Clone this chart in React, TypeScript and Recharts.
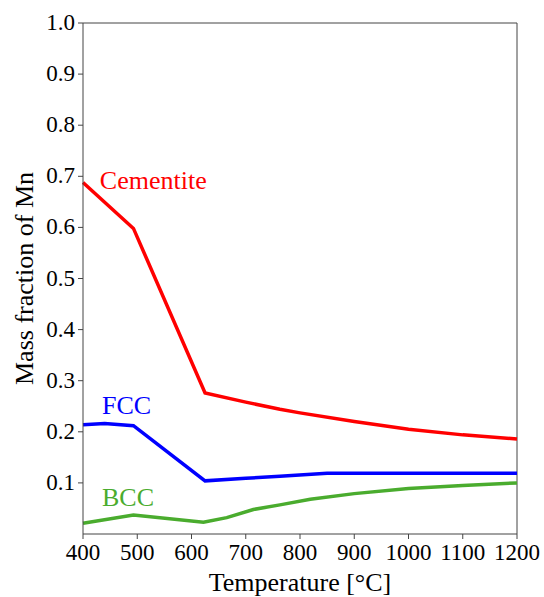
import React from 'react';
import { LineChart, Line, XAxis, YAxis, ReferenceLine, ReferenceDot } from 'recharts';

// Mn mass fraction per phase vs temperature [°C]
const cementite = [
  { t: 400, v: 0.688 }, { t: 493, v: 0.598 }, { t: 625, v: 0.276 }, { t: 700, v: 0.258 },
  { t: 763, v: 0.244 }, { t: 800, v: 0.237 }, { t: 900, v: 0.220 }, { t: 1000, v: 0.205 },
  { t: 1100, v: 0.194 }, { t: 1200, v: 0.186 },
];
const fcc = [
  { t: 400, v: 0.214 }, { t: 440, v: 0.216 }, { t: 493, v: 0.212 }, { t: 625, v: 0.104 },
  { t: 700, v: 0.109 }, { t: 763, v: 0.113 }, { t: 850, v: 0.119 }, { t: 1200, v: 0.119 },
];
const bcc = [
  { t: 400, v: 0.021 }, { t: 493, v: 0.037 }, { t: 622, v: 0.023 }, { t: 665, v: 0.032 },
  { t: 714, v: 0.048 }, { t: 763, v: 0.057 }, { t: 819, v: 0.068 }, { t: 900, v: 0.079 },
  { t: 1000, v: 0.089 }, { t: 1100, v: 0.095 }, { t: 1200, v: 0.100 },
];
const xTicks = [400, 500, 600, 700, 800, 900, 1000, 1100, 1200];
const yTicks = [0.1, 0.2, 0.3, 0.4, 0.5, 0.6, 0.7, 0.8, 0.9, 1.0];

const font = '"Liberation Serif", "Times New Roman", serif';
const axisColor = '#444';
const titleStyle = { fontSize: 26, fill: '#000', fontFamily: font };
const tickText = { fontSize: 23, fill: '#000', fontFamily: font };

const XTick = (props: any) => {
  const { x, y, payload } = props;
  return (
    <text x={x} y={y + 16} textAnchor="middle" style={tickText}>
      {payload.value}
    </text>
  );
};

const YTick = (props: any) => {
  const { x, y, payload } = props;
  return (
    <text x={x} y={y + 7} textAnchor="end" style={tickText}>
      {Number(payload.value).toFixed(1)}
    </text>
  );
};

export default function App() {
  return (
    <div style={{ position: 'absolute', left: 0, top: 0, background: '#fff', fontFamily: font }}>
      <LineChart width={544} height={597} margin={{ top: 23, right: 27, bottom: 0, left: 0 }}>
        <XAxis
          dataKey="t"
          type="number"
          domain={[400, 1200]}
          ticks={xTicks}
          allowDuplicatedCategory={false}
          height={63}
          stroke={axisColor}
          tickSize={5}
          tickMargin={5}
          tick={<XTick />}
          label={{ value: 'Temperature [°C]', position: 'insideBottom', offset: 6, style: titleStyle }}
        />
        <YAxis
          dataKey="v"
          type="number"
          domain={[0, 1]}
          ticks={yTicks}
          width={83}
          stroke={axisColor}
          tickSize={5}
          tickMargin={3}
          tick={<YTick />}
          label={{ value: 'Mass fraction of Mn', angle: -90, position: 'insideLeft', offset: 24, style: { ...titleStyle, textAnchor: 'middle' } }}
        />
        <ReferenceLine y={1} stroke={axisColor} />
        <ReferenceLine x={1200} stroke={axisColor} />
        <Line data={cementite} dataKey="v" stroke="#ff0000" strokeWidth={3.5} dot={false} isAnimationActive={false} />
        <Line data={fcc} dataKey="v" stroke="#0000ff" strokeWidth={3.5} dot={false} isAnimationActive={false} />
        <Line data={bcc} dataKey="v" stroke="#4aac2e" strokeWidth={3.5} dot={false} isAnimationActive={false} />
        <ReferenceDot x={431} y={0.694} r={0} fill="none" stroke="none"
          label={{ value: 'Cementite', position: 'right', offset: 0, style: { fontSize: 26, fill: '#ff0000', fontFamily: font } }} />
        <ReferenceDot x={435} y={0.252} r={0} fill="none" stroke="none"
          label={{ value: 'FCC', position: 'right', offset: 0, style: { fontSize: 26, fill: '#0000ff', fontFamily: font } }} />
        <ReferenceDot x={435} y={0.072} r={0} fill="none" stroke="none"
          label={{ value: 'BCC', position: 'right', offset: 0, style: { fontSize: 26, fill: '#4aac2e', fontFamily: font } }} />
      </LineChart>
    </div>
  );
}
